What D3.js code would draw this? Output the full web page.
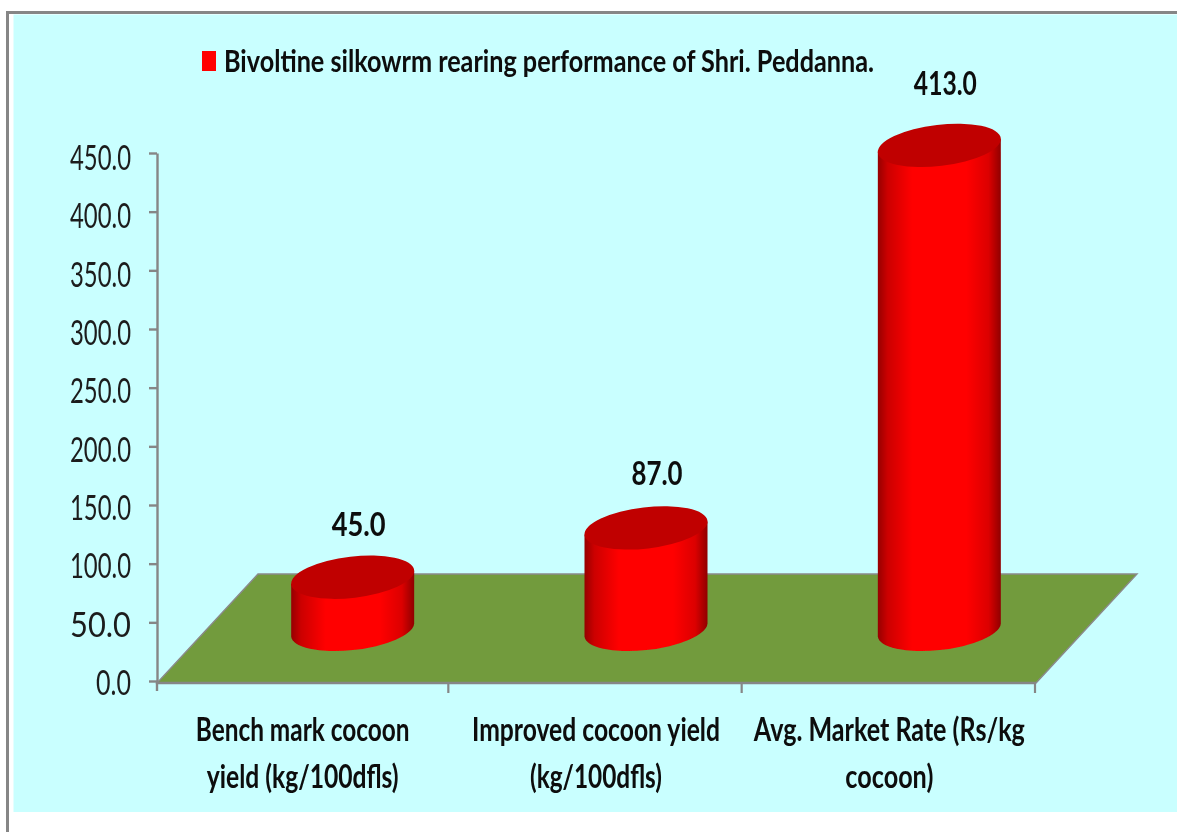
<!DOCTYPE html>
<html><head><meta charset="utf-8">
<script src="https://cdn.jsdelivr.net/npm/d3@7/dist/d3.min.js"></script>
<style>html,body{margin:0;padding:0;background:#fff}svg{display:block}text{font-family:Lato,"Open Sans",sans-serif;fill:#0a0a0a}</style>
</head><body><div id="chart"></div>
<script>
const categories = ["Bench mark cocoon yield (kg/100dfls)", "Improved cocoon yield (kg/100dfls)", "Avg. Market Rate (Rs/kg cocoon)"];
const values = [45.0, 87.0, 413.0];
const yTicks = [0, 50, 100, 150, 200, 250, 300, 350, 400, 450];
const seriesName = "Bivoltine silkowrm rearing performance of Shri. Peddanna.";
const categoryLines = [["Bench mark cocoon", "yield (kg/100dfls)"], ["Improved cocoon yield", "(kg/100dfls)"], ["Avg. Market Rate (Rs/kg", "cocoon)"]];

// layout
const W = 1177, H = 832;
const lineWidths = [[214, 192], [248, 132], [271, 88]];
const labelWidths = [54, 51, 63];
const labelLift = [41, 43, 50];
const labelShift = [6, 11, 6];

const svg = d3.select("#chart").append("svg").attr("width", W).attr("height", H);
const defs = svg.append("defs");
defs.append("filter").attr("id", "soft").append("feGaussianBlur").attr("stdDeviation", 0.5);
const grad = defs.append("linearGradient").attr("id", "cyl").attr("x1", 0).attr("x2", 1).attr("y1", 0).attr("y2", 0);
[[0, "#960000"], [0.08, "#cc0000"], [0.28, "#ff0000"], [0.72, "#ff0000"], [0.9, "#dc0000"], [1, "#900000"]]
  .forEach(([o, c]) => grad.append("stop").attr("offset", o).attr("stop-color", c));

svg.append("rect").attr("x", 6).attr("y", 11).attr("width", W - 6).attr("height", H - 11).attr("fill", "#868686");
svg.append("rect").attr("x", 9).attr("y", 14).attr("width", W - 9).attr("height", H - 14).attr("fill", "#fff");
svg.append("rect").attr("x", 13.5).attr("y", 14.5).attr("width", W - 13.5).attr("height", 797.5).attr("fill", "#c9ffff");

const x = d3.scaleBand().domain(categories).range([156, 1036]);
const y = d3.scaleLinear().domain([0, 450]).range([681, 153]);
const yLabel = d3.scaleLinear().domain([0, 450]).range([695, 170]);
const fmt = d3.format(".1f");

const g = svg.append("g").attr("filter", "url(#soft)");

// squeezes each text horizontally to the width it has in the picture
function fit(sel, anchorX, baseline, width) {
  sel.attr("transform", function (d, i) {
    const sx = width(d, i) / this.getComputedTextLength();
    return `translate(${anchorX(d, i)},${baseline(d, i)}) scale(${sx},1)`;
  });
}

// floor
const depthX = 101, depthY = 109, frontY = 683;
g.append("path")
  .attr("d", d3.line()([[x.range()[0] + 1, frontY], [x.range()[1], frontY], [x.range()[1] + depthX, frontY - depthY], [x.range()[0] + 1 + depthX, frontY - depthY]]) + "Z")
  .attr("fill", "#729b3d").attr("stroke", "#8a8a8a").attr("stroke-width", 1.4);

// axes
const yAxis = g.append("g").attr("transform", "translate(157,0)")
  .call(d3.axisLeft(y).tickValues(yTicks).tickSize(8).tickSizeOuter(0).tickFormat(fmt));
yAxis.select(".domain").attr("stroke", "#868686").attr("stroke-width", 2.4);
yAxis.selectAll(".tick line").attr("stroke", "#868686").attr("stroke-width", 2.4);
yAxis.selectAll(".tick text").remove();
g.append("line").attr("x1", 157).attr("x2", 157).attr("y1", 681).attr("y2", 691).attr("stroke", "#868686").attr("stroke-width", 2.4);

g.selectAll(".ylab").data(yTicks).join("text").attr("class", "ylab")
  .attr("text-anchor", "end").attr("font-size", 34).style("fill", "#1c1c1c")
  .text(fmt)
  .call(fit, () => 131, d => yLabel(d), d => d === 0 ? 35 : 61);

const xTicks = categories.map(c => x(c)).concat(x.range()[1]);
g.append("line").attr("x1", 157).attr("x2", 1036).attr("y1", frontY).attr("y2", frontY).attr("stroke", "#868686").attr("stroke-width", 2.6);
g.selectAll(".xt").data(xTicks.slice(1)).join("line").attr("class", "xt")
  .attr("x1", d => d - 1).attr("x2", d => d - 1).attr("y1", frontY).attr("y2", 693)
  .attr("stroke", "#868686").attr("stroke-width", 2.2);

// cylinders
const baseY = 630, offX = 50;
const a = 61.9, b = 20.6, tilt = -6.7, hw = 61.5, hy = 6.5;
const cx = i => x(categories[i]) + x.bandwidth() / 2 + offX;
const cyl = g.selectAll(".cyl").data(values).join("g").attr("class", "cyl");
cyl.append("path")
  .attr("d", (d, i) => {
    const h = y(0) - y(d), c = cx(i);
    return `M${c - hw},${baseY - h + hy}L${c - hw},${baseY + hy}A${a},${b} ${tilt} 0 0 ${c + hw},${baseY - hy}L${c + hw},${baseY - h - hy}Z`;
  })
  .attr("fill", "url(#cyl)");
cyl.append("ellipse")
  .attr("rx", a).attr("ry", b).attr("fill", "#c00000")
  .attr("transform", (d, i) => `translate(${cx(i)},${baseY - (y(0) - y(d))}) rotate(${tilt})`);

// value labels
g.selectAll(".val").data(values).join("text").attr("class", "val")
  .attr("text-anchor", "middle").attr("font-size", 33).attr("font-weight", 700)
  .text(fmt)
  .call(fit, (d, i) => cx(i) + labelShift[i], (d, i) => baseY - (y(0) - y(d)) - labelLift[i], (d, i) => labelWidths[i]);

// category labels
categories.forEach((c, i) => {
  categoryLines[i].forEach((t, j) => {
    g.append("text").datum(t)
      .attr("text-anchor", "middle").attr("font-size", 32).attr("font-weight", 700)
      .text(t)
      .call(fit, () => x(c) + x.bandwidth() / 2, () => 741 + j * 47, () => lineWidths[i][j]);
  });
});

// legend
g.append("rect").attr("x", 202).attr("y", 51).attr("width", 14).attr("height", 20).attr("fill", "#ff0000");
g.append("text").datum(seriesName).attr("font-size", 31).attr("font-weight", 700)
  .text(seriesName)
  .call(fit, () => 224, () => 72, () => 650);
</script></body></html>
